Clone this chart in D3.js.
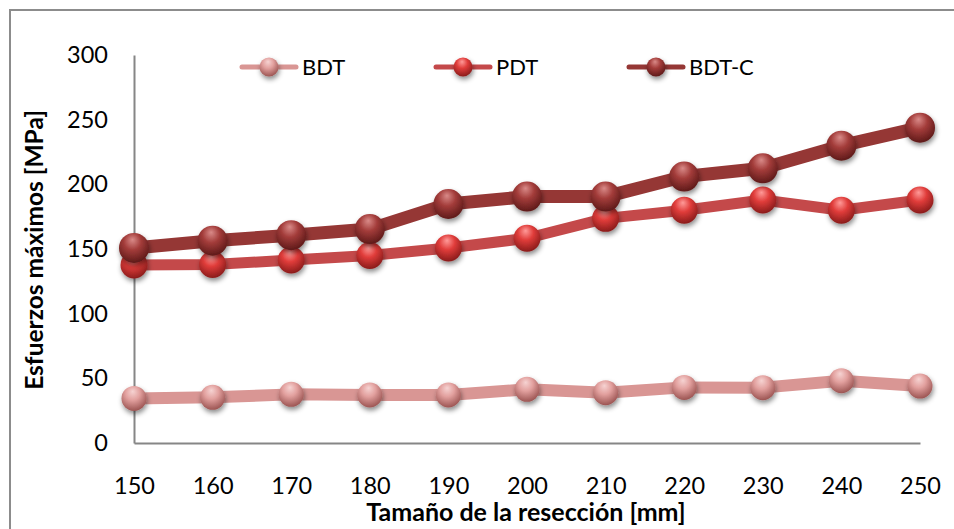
<!DOCTYPE html>
<html>
<head>
<meta charset="utf-8">
<script src="https://cdn.jsdelivr.net/npm/d3@7/dist/d3.min.js"></script>
<style>
  body { margin: 0; background: #fff; }
  svg { display: block; font-family: Lato, "Open Sans", sans-serif; }
  .tick-label { font-size: 23.5px; fill: #000; }
  .axis-title { font-weight: bold; fill: #000; }
  .legend-label { font-size: 22px; fill: #000; }
</style>
</head>
<body>
<div id="chart"></div>
<script>
// x categories (resection size, mm)
var sizes = [150, 160, 170, 180, 190, 200, 210, 220, 230, 240, 250]
var yTicks = [0, 50, 100, 150, 200, 250, 300]

// series values, MPa
var bdt  = [34.5, 35.3, 37.6, 37.1, 37.1, 41.5, 38.9, 43.0, 42.8, 48.2, 44.0]
var pdt  = [137.6, 138.0, 141.5, 145.0, 150.8, 158.3, 173.7, 180.0, 187.9, 180.0, 187.9]
var bdtc = [150.8, 156.4, 160.7, 165.4, 184.8, 190.5, 190.5, 206.0, 212.4, 229.9, 243.8]

var seriesNames = ['BDT', 'PDT', 'BDT-C']

var series = [
  {name: seriesNames[0], values: bdt,  line: '#d99694', light: '#f6d3d2', mid: '#e2a09e', dark: '#9c5553', width: 12, r: 12.5},
  {name: seriesNames[1], values: pdt,  line: '#c4494a', light: '#ff9a98', mid: '#e03c3a', dark: '#8a1c1b', width: 11, r: 13.5},
  {name: seriesNames[2], values: bdtc, line: '#953735', light: '#d98a88', mid: '#a33c3a', dark: '#5e1a19', width: 13, r: 15}
]

var width = 954, height = 529
var margin = {top: 55, left: 134, right: 34, bottom: 86}

var svg = d3.select('#chart').append('svg')
  .attr('width', width)
  .attr('height', height)

var defs = svg.append('defs')

series.forEach(function(s, i) {
  var g = defs.append('radialGradient')
    .attr('id', 'ball' + i)
    .attr('cx', '45%').attr('cy', '35%').attr('r', '65%')
    .attr('fx', '45%').attr('fy', '22%')
  g.append('stop').attr('offset', '0%').attr('stop-color', s.light)
  g.append('stop').attr('offset', '45%').attr('stop-color', s.mid)
  g.append('stop').attr('offset', '100%').attr('stop-color', s.dark)
})

var shadow = defs.append('filter').attr('id', 'shadow')
  .attr('x', '-50%').attr('y', '-50%').attr('width', '200%').attr('height', '200%')
shadow.append('feDropShadow')
  .attr('dx', 1).attr('dy', 3).attr('stdDeviation', 2.5)
  .attr('flood-color', '#000').attr('flood-opacity', 0.45)

// outer chart frame
svg.append('rect')
  .attr('x', 10).attr('y', 10)
  .attr('width', width).attr('height', height)
  .attr('fill', 'none')
  .attr('stroke', '#8c8c8c')
  .attr('stroke-width', 2)

var x = d3.scalePoint()
  .domain(sizes)
  .range([margin.left, width - margin.right - 0])

var y = d3.scaleLinear()
  .domain([0, 300])
  .range([height - margin.bottom, margin.top])

// axes
var yAxis = svg.append('g')
  .attr('transform', 'translate(' + margin.left + ',0)')
  .call(d3.axisLeft(y).tickValues(yTicks).tickSize(0).tickPadding(26))
yAxis.select('.domain').attr('stroke', '#868686').attr('stroke-width', 2)
yAxis.selectAll('text').attr('class', 'tick-label').attr('font-family', null).attr('font-size', null)
yAxis.attr('font-family', null).attr('font-size', null)

var xAxis = svg.append('g')
  .attr('transform', 'translate(0,' + y(0) + ')')
  .call(d3.axisBottom(x).tickSize(0).tickPadding(34))
xAxis.select('.domain').attr('stroke', '#868686').attr('stroke-width', 2)
xAxis.selectAll('text').attr('class', 'tick-label').attr('font-family', null).attr('font-size', null)
xAxis.attr('font-family', null).attr('font-size', null)

// axis titles
svg.append('text')
  .attr('class', 'axis-title')
  .attr('x', 526)
  .attr('y', 521)
  .attr('font-size', 25)
  .attr('text-anchor', 'middle')
  .text('Tamaño de la resección [mm]')

svg.append('text')
  .attr('class', 'axis-title')
  .attr('transform', 'translate(43,' + 250 + ') rotate(-90)')
  .attr('font-size', 24.5)
  .attr('text-anchor', 'middle')
  .text('Esfuerzos máximos [MPa]')

var line = d3.line()
  .x(function(d, i) { return x(sizes[i]) })
  .y(function(d) { return y(d) })

// lines first, then markers per series
series.forEach(function(s, i) {
  svg.append('path')
    .datum(s.values)
    .attr('d', line)
    .attr('fill', 'none')
    .attr('stroke', s.line)
    .attr('stroke-width', s.width)
    .attr('stroke-linejoin', 'round')

  svg.append('g').selectAll('circle')
    .data(s.values)
    .enter().append('circle')
    .attr('cx', function(d, j) { return x(sizes[j]) })
    .attr('cy', function(d) { return y(d) })
    .attr('r', s.r)
    .attr('fill', 'url(#ball' + i + ')')
    .attr('filter', 'url(#shadow)')
})

// legend
var legendX = [269, 463, 656]
var legend = svg.append('g').attr('class', 'legend')
series.forEach(function(s, i) {
  var lg = legend.append('g').attr('transform', 'translate(' + legendX[i] + ',67)')
  lg.append('line')
    .attr('x1', -27).attr('x2', 27)
    .attr('stroke', s.line)
    .attr('stroke-width', 5)
    .attr('stroke-linecap', 'round')
  lg.append('circle')
    .attr('r', 9.5)
    .attr('fill', 'url(#ball' + i + ')')
    .attr('filter', 'url(#shadow)')
  lg.append('text')
    .attr('class', 'legend-label')
    .attr('x', 33)
    .attr('dy', '0.35em')
    .text(s.name)
})
</script>
</body>
</html>
